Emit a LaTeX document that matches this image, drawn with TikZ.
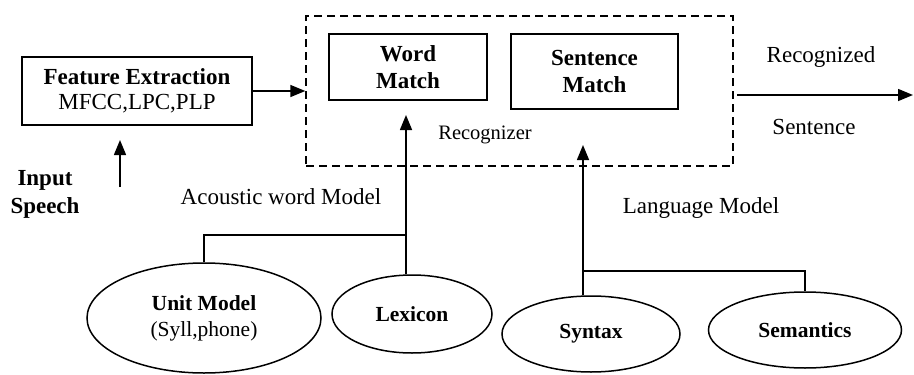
\documentclass[tikz,border=0pt]{standalone}
\usepackage{fontspec}
\setmainfont{Liberation Serif}
\usetikzlibrary{arrows.meta,shapes.geometric}
\tikzset{
  box/.style={draw,line width=1.6pt,rectangle,inner sep=0pt,align=center,font=\rmfamily\fontsize{23}{27}\selectfont\bfseries},
  dbox/.style={draw,line width=1.4pt,dash pattern=on 8pt off 5pt,rectangle,inner sep=0pt},
  ell/.style={draw,line width=1.5pt,ellipse,inner sep=0pt,align=center,font=\rmfamily\fontsize{21.5}{26}\selectfont},
  lbl/.style={inner sep=0pt,align=center,font=\rmfamily\fontsize{23}{27}\selectfont},
  conn/.style={line width=1.5pt},
  arr/.style={line width=1.5pt,-{Triangle[length=15pt,width=12pt]}}
}
\begin{document}
\begin{tikzpicture}[x=1pt,y=-1pt]
\useasboundingbox (0,0) rectangle (914,375);
% boxes
\node[box,minimum width=230pt,minimum height=68pt] (fe) at (137,91) {Feature Extraction\\[-2pt]{\mdseries MFCC,LPC,PLP}};
\node[dbox,minimum width=427pt,minimum height=150pt] (rec) at (519.5,91) {};
\node[box,minimum width=158pt,minimum height=66pt] (wm) at (408,67) {Word\\Match};
\node[box,minimum width=167pt,minimum height=75pt] (sm) at (594.5,71.5) {Sentence\\Match};
\node[lbl,font=\rmfamily\fontsize{20.5}{24}\selectfont] (recl) at (485,135) {Recognizer};
\node[lbl] (rz) at (821,57) {Recognized};
\node[lbl] (st) at (814,127) {Sentence};
\node[lbl,font=\rmfamily\fontsize{23}{28}\selectfont\bfseries] (inp) at (45,194) {Input\\Speech};
\node[lbl] (awm) at (281,197) {Acoustic word Model};
\node[lbl] (lm) at (701,208) {Language Model};
% ellipses
\node[ell,minimum width=234pt,minimum height=110pt] (um) at (204,318) {\textbf{Unit Model}\\(Syll,phone)};
\node[ell,minimum width=160pt,minimum height=78pt,font=\rmfamily\fontsize{21.5}{26}\selectfont\bfseries] (lex) at (412,314) {Lexicon};
\node[ell,minimum width=178pt,minimum height=76pt,font=\rmfamily\fontsize{21.5}{26}\selectfont\bfseries] (syn) at (591,334) {Syntax};
\node[ell,minimum width=193pt,minimum height=76pt,font=\rmfamily\fontsize{21.5}{26}\selectfont\bfseries] (sem) at (805,330) {Semantics};
% coordinates
\coordinate (ins) at (120,187);
\coordinate (int) at (120,140);
\coordinate (outs) at (737,95);
\coordinate (oute) at (913,95);
\coordinate (wmt) at (406,115);
\coordinate (aj) at (406,235);
\coordinate (lt) at (583,145);
\coordinate (lj) at (583,271);
% connectors
\draw[arr] (fe.east) -- (fe.east -| rec.west);
\draw[arr] (outs) -- (oute);
\draw[arr] (ins) -- (int);
\draw[arr] (wmt |- lex.north) -- (wmt);
\draw[conn] (um.north) |- (aj);
\draw[arr] (lt |- syn.north) -- (lt);
\draw[conn] (lj) -| (sem.north);
\end{tikzpicture}
\end{document}
